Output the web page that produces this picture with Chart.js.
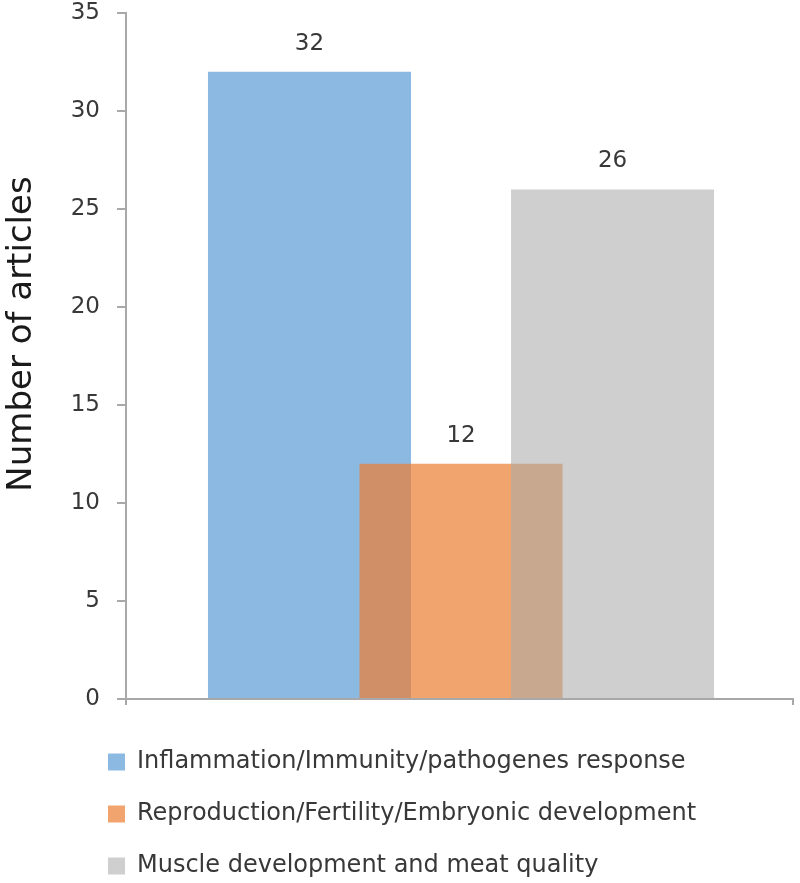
<!DOCTYPE html>
<html>
<head>
<meta charset="utf-8">
<script src="https://cdn.jsdelivr.net/npm/chart.js@4.4.0/dist/chart.umd.min.js"></script>
<style>
  html, body { margin: 0; padding: 0; background: #fff; }
  #wrap { width: 800px; height: 883px; }
</style>
</head>
<body>
<div id="wrap"><canvas id="chart"></canvas></div>
<script>
// data
const seriesNames = [
  'Inflammation/Immunity/pathogenes response',
  'Reproduction/Fertility/Embryonic development',
  'Muscle development and meat quality'
];
const inflammation = [32];
const reproduction = [12];
const muscle = [26];
const yTicks = [0, 5, 10, 15, 20, 25, 30, 35];
const yTitle = 'Number of articles';

const FONT = '"DejaVu Sans", sans-serif';
const axisGray = '#a8a8a8';
const textGray = '#383838';

// numbers above each bar
const valueLabels = {
  id: 'valueLabels',
  afterDatasetsDraw(chart) {
    const ctx = chart.ctx;
    ctx.save();
    ctx.font = '23px ' + FONT;
    ctx.fillStyle = textGray;
    ctx.textAlign = 'center';
    ctx.textBaseline = 'middle';
    chart.data.datasets.forEach((ds, i) => {
      chart.getDatasetMeta(i).data.forEach((bar, j) => {
        ctx.fillText(ds.data[j].y, bar.x, bar.y - 28);
      });
    });
    ctx.restore();
  }
};

// y title sits a bit above the middle of the axis, as in the original
const axisTitle = {
  id: 'axisTitle',
  afterDraw(chart) {
    const ctx = chart.ctx;
    ctx.save();
    ctx.translate(22, 334);
    ctx.rotate(-Math.PI / 2);
    ctx.font = '34px ' + FONT;
    ctx.fillStyle = '#1a1a1a';
    ctx.textAlign = 'center';
    ctx.textBaseline = 'middle';
    ctx.fillText(yTitle, 0, 0);
    ctx.restore();
  }
};

// legend sits under the plot, lined up with the y axis
const legendShift = {
  id: 'legendShift',
  afterUpdate(chart) {
    const lg = chart.legend;
    lg.left += 80;
    lg.right += 80;
    lg.top += 17;
    lg.bottom += 17;
  }
};

// bars overlap: each series sits at its own slot, later series painted on top
const slot = (values, i) => values.map(v => ({ x: i, y: v }));

new Chart(document.getElementById('chart'), {
  type: 'bar',
  data: {
    datasets: [
      { label: seriesNames[0], data: slot(inflammation, 0), backgroundColor: 'rgba(91,155,213,0.7)', order: 3 },
      { label: seriesNames[1], data: slot(reproduction, 1), backgroundColor: 'rgba(237,125,49,0.7)', order: 2 },
      { label: seriesNames[2], data: slot(muscle, 2), backgroundColor: 'rgba(171,171,171,0.57)', order: 1 }
    ]
  },
  options: {
    responsive: true,
    maintainAspectRatio: false,
    animation: false,
    grouped: false,
    categoryPercentage: 1,
    barPercentage: 1.34,
    layout: { padding: { top: 0, right: 7, bottom: 12, left: 0 } },
    plugins: {
      tooltip: { enabled: false },
      legend: {
        position: 'bottom',
        align: 'start',
        reverse: true,
        labels: {
          boxWidth: 17,
          boxHeight: 17,
          padding: 28,
          color: textGray,
          font: { family: FONT, size: 24 }
        }
      }
    },
    scales: {
      x: {
        type: 'linear',
        offset: false,
        min: -1.211,
        max: 3.191,
        afterBuildTicks: s => { s.ticks = [{ value: s.min }, { value: s.max }]; },
        ticks: { display: false },
        grid: { offset: false, drawOnChartArea: false, tickLength: 6, color: axisGray, lineWidth: 2 },
        border: { color: axisGray, width: 2 }
      },
      y: {
        min: 0,
        max: 35,
        afterBuildTicks: s => { s.ticks = yTicks.map(v => ({ value: v })); },
        afterFit: s => { s.width = 126; s.paddingTop = 13; s.paddingBottom = 13; },
        ticks: { padding: 17, color: textGray, font: { family: FONT, size: 23 } },
        grid: { drawOnChartArea: false, tickLength: 9, color: axisGray, lineWidth: 2 },
        border: { color: axisGray, width: 2 }
      }
    }
  },
  plugins: [valueLabels, axisTitle, legendShift]
});
</script>
</body>
</html>
